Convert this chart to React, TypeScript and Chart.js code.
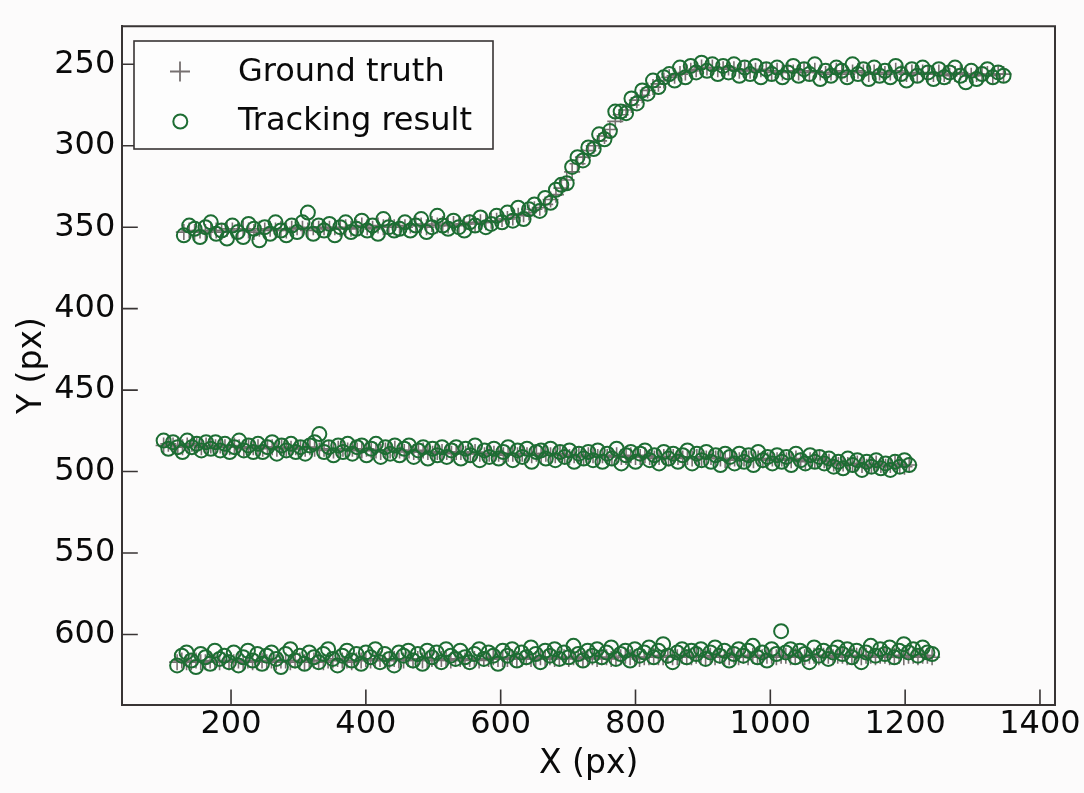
import React, { useEffect, useRef } from "react";
import { Chart, registerables } from "chart.js";

Chart.register(...registerables);

// ---- axis ticks ----
const xTicks = [200, 400, 600, 800, 1000, 1200, 1400];
const yTicks = [250, 300, 350, 400, 450, 500, 550, 600];

// ---- track 1 (upper, lane change) ----
const track1X = [
  130, 138, 146, 154, 162, 170, 178, 186, 194, 202,
  210, 218, 226, 234, 242, 250, 258, 266, 274, 282,
  290, 298, 306, 314, 322, 330, 338, 346, 354, 362,
  370, 378, 386, 394, 402, 410, 418, 426, 434, 442,
  450, 458, 466, 474, 482, 490, 498, 506, 514, 522,
  530, 538, 546, 554, 562, 570, 578, 586, 594, 602,
  610, 618, 626, 634, 642, 650, 658, 666, 674, 682,
  690, 698, 706, 714, 722, 730, 738, 746, 754, 762,
  770, 778, 786, 794, 802, 810, 818, 826, 834, 842,
  850, 858, 866, 874, 882, 890, 898, 906, 914, 922,
  930, 938, 946, 954, 962, 970, 978, 986, 994, 1002,
  1010, 1018, 1026, 1034, 1042, 1050, 1058, 1066, 1074, 1082,
  1090, 1098, 1106, 1114, 1122, 1130, 1138, 1146, 1154, 1162,
  1170, 1178, 1186, 1194, 1202, 1210, 1218, 1226, 1234, 1242,
  1250, 1258, 1266, 1274, 1282, 1290, 1298, 1306, 1314, 1322,
  1330, 1338, 1346,
];
const track1Truth = [
  353, 352, 353, 352, 353, 352, 352, 353, 351, 352,
  352, 351, 352, 353, 351, 352, 351, 352, 351, 352,
  351, 350, 351, 352, 350, 351, 350, 351, 350, 351,
  350, 351, 350, 349, 350, 351, 349, 350, 349, 350,
  349, 350, 349, 348, 349, 350, 348, 349, 348, 349,
  348, 349, 348, 347, 348, 347, 347, 346, 346, 345,
  345, 344, 343, 342, 341, 339, 338, 336, 333, 330,
  326, 321, 316, 311, 307, 303, 300, 297, 294, 290,
  285, 281, 278, 275, 272, 269, 266, 264, 262, 260,
  258, 257, 256, 255, 254, 253, 252, 252, 252, 253,
  253, 252, 253, 254, 253, 254, 254, 253, 254, 255,
  254, 255, 254, 255, 255, 254, 255, 254, 255, 256,
  255, 254, 255, 256, 255, 254, 255, 256, 255, 255,
  256, 255, 254, 255, 256, 255, 256, 255, 256, 256,
  255, 256, 257, 256, 255, 256, 257, 256, 257, 256,
  257, 256, 256,
];
const track1Tracked = [
  355, 349, 351, 356, 350, 347, 354, 352, 357, 349,
  353, 356, 348, 351, 358, 350, 354, 347, 352, 355,
  349, 353, 347, 341, 354, 349, 352, 348, 355, 350,
  347, 353, 351, 346, 352, 349, 354, 345, 350, 352,
  351, 347, 352, 349, 345, 353, 350, 343, 349, 351,
  346, 350, 352, 347, 349, 344, 350, 348, 343, 347,
  341, 346, 338, 345, 339, 336, 340, 332, 335, 327,
  324, 323, 313, 307, 309, 301, 302, 293, 296, 291,
  279, 279, 280, 271, 274, 266, 268, 260, 264, 258,
  256, 260, 252, 258, 251, 255, 249, 254, 250, 256,
  251, 255, 250, 257, 252, 256, 251, 258, 253, 256,
  252, 258, 255, 251, 257, 253, 256, 250, 259, 254,
  257, 252, 254, 258, 250, 256, 253, 259, 252, 257,
  254, 258, 251, 256, 260, 253, 257, 252, 255, 259,
  253, 258, 255, 252, 257, 261, 254, 259, 256, 253,
  258, 255, 257,
];

// ---- track 2 (middle) ----
const track2X = [
  100, 107, 114, 121, 128, 135, 142, 149, 156, 163,
  170, 177, 184, 191, 198, 205, 212, 219, 226, 233,
  240, 247, 254, 261, 268, 275, 282, 289, 296, 303,
  310, 317, 324, 331, 338, 345, 352, 359, 366, 373,
  380, 387, 394, 401, 408, 415, 422, 429, 436, 443,
  450, 457, 464, 471, 478, 485, 492, 499, 506, 513,
  520, 527, 534, 541, 548, 555, 562, 569, 576, 583,
  590, 597, 604, 611, 618, 625, 632, 639, 646, 653,
  660, 667, 674, 681, 688, 695, 702, 709, 716, 723,
  730, 737, 744, 751, 758, 765, 772, 779, 786, 793,
  800, 807, 814, 821, 828, 835, 842, 849, 856, 863,
  870, 877, 884, 891, 898, 905, 912, 919, 926, 933,
  940, 947, 954, 961, 968, 975, 982, 989, 996, 1003,
  1010, 1017, 1024, 1031, 1038, 1045, 1052, 1059, 1066, 1073,
  1080, 1087, 1094, 1101, 1108, 1115, 1122, 1129, 1136, 1143,
  1150, 1157, 1164, 1171, 1178, 1185, 1192, 1199, 1206,
];
const track2Truth = [
  484, 483, 484, 484, 485, 484, 483, 484, 485, 484,
  484, 485, 484, 485, 485, 484, 485, 486, 485, 485,
  485, 486, 485, 485, 486, 485, 486, 486, 485, 486,
  486, 485, 486, 487, 486, 486, 487, 486, 486, 487,
  486, 487, 487, 486, 487, 487, 488, 487, 487, 486,
  487, 488, 487, 488, 488, 487, 488, 489, 488, 488,
  488, 489, 488, 488, 489, 489, 488, 489, 490, 489,
  489, 489, 490, 489, 489, 490, 489, 490, 490, 489,
  490, 489, 490, 490, 489, 490, 491, 490, 490, 491,
  490, 490, 491, 490, 491, 491, 490, 491, 491, 490,
  491, 491, 490, 491, 492, 491, 491, 492, 491, 491,
  492, 491, 492, 491, 492, 492, 491, 492, 492, 493,
  492, 492, 493, 492, 492, 493, 492, 493, 493, 492,
  493, 492, 493, 493, 492, 493, 494, 493, 493, 492,
  493, 494, 495, 496, 495, 496, 496, 495, 496, 497,
  496, 495, 496, 497, 496, 495, 496, 497, 496,
];
const track2Tracked = [
  481, 486, 482, 485, 488, 481, 485, 483, 487, 482,
  486, 482, 487, 483, 488, 485, 481, 487, 484, 488,
  483, 488, 485, 482, 489, 484, 487, 483, 488, 485,
  489, 484, 482, 477, 488, 485, 490, 484, 488, 483,
  489, 485, 484, 490, 486, 483, 491, 485, 489, 484,
  490, 486, 484, 491, 487, 485, 492, 486, 490, 485,
  491, 487, 485, 492, 486, 490, 484, 493, 487, 491,
  486, 492, 488, 485, 493, 487, 491, 486, 494, 488,
  487, 492, 486, 493, 488, 491, 487, 494, 489, 492,
  488, 493, 487, 494, 489, 492, 486, 495, 490, 488,
  494, 489, 487, 493, 490, 495, 488, 492, 489, 494,
  490, 487, 495, 489, 493, 488, 494, 490, 496, 489,
  491, 495, 489, 494, 490, 496, 488, 493, 491, 495,
  490, 494, 491, 496, 489, 493, 495, 490, 494, 491,
  495, 492, 497, 494, 498, 492, 496, 493, 499, 494,
  497, 493, 498, 495, 499, 494, 497, 493, 496,
];

// ---- track 3 (lower) ----
const track3X = [
  120, 127, 134, 141, 148, 155, 162, 169, 176, 183,
  190, 197, 204, 211, 218, 225, 232, 239, 246, 253,
  260, 267, 274, 281, 288, 295, 302, 309, 316, 323,
  330, 337, 344, 351, 358, 365, 372, 379, 386, 393,
  400, 407, 414, 421, 428, 435, 442, 449, 456, 463,
  470, 477, 484, 491, 498, 505, 512, 519, 526, 533,
  540, 547, 554, 561, 568, 575, 582, 589, 596, 603,
  610, 617, 624, 631, 638, 645, 652, 659, 666, 673,
  680, 687, 694, 701, 708, 715, 722, 729, 736, 743,
  750, 757, 764, 771, 778, 785, 792, 799, 806, 813,
  820, 827, 834, 841, 848, 855, 862, 869, 876, 883,
  890, 897, 904, 911, 918, 925, 932, 939, 946, 953,
  960, 967, 974, 981, 988, 995, 1002, 1009, 1016, 1023,
  1030, 1037, 1044, 1051, 1058, 1065, 1072, 1079, 1086, 1093,
  1100, 1107, 1114, 1121, 1128, 1135, 1142, 1149, 1156, 1163,
  1170, 1177, 1184, 1191, 1198, 1205, 1212, 1219, 1226, 1233,
  1240,
];
const track3Truth = [
  617, 616, 617, 617, 616, 617, 617, 616, 617, 617,
  616, 617, 617, 616, 617, 616, 617, 617, 616, 617,
  616, 617, 616, 616, 617, 616, 616, 617, 616, 616,
  616, 617, 616, 616, 615, 616, 616, 617, 616, 616,
  615, 616, 616, 615, 616, 616, 615, 616, 616, 615,
  616, 615, 616, 616, 615, 616, 615, 615, 616, 615,
  615, 616, 615, 615, 616, 615, 615, 614, 615, 615,
  615, 614, 615, 615, 614, 615, 615, 614, 615, 614,
  615, 614, 614, 615, 614, 614, 615, 614, 614, 615,
  614, 614, 615, 614, 614, 613, 614, 614, 615, 614,
  614, 613, 614, 614, 613, 614, 614, 613, 614, 614,
  613, 614, 614, 613, 614, 613, 614, 614, 613, 614,
  613, 614, 613, 613, 614, 613, 613, 614, 613, 613,
  614, 613, 613, 614, 613, 613, 614, 613, 613, 614,
  613, 613, 614, 613, 613, 614, 613, 613, 614, 613,
  613, 614, 613, 613, 614, 613, 613, 614, 613, 613,
  614,
];
const track3Tracked = [
  619, 613, 611, 616, 620, 612, 614, 618, 610, 615,
  613, 617, 611, 619, 614, 610, 616, 612, 618, 613,
  611, 615, 620, 612, 609, 616, 613, 618, 611, 614,
  617, 612, 609, 615, 619, 613, 610, 616, 612, 618,
  611, 614, 609, 617, 612, 615, 619, 611, 613, 610,
  616, 612, 618, 610, 614, 611, 617, 609, 613, 615,
  610, 614, 617, 612, 609, 615, 611, 613, 618, 610,
  613, 609, 616, 611, 614, 608, 612, 617, 610, 613,
  609, 615, 611, 614, 607, 612, 616, 610, 613, 609,
  614, 611, 608, 615, 612, 610, 616, 609, 613, 611,
  608, 614, 610, 606, 613, 617, 611, 609, 614, 610,
  612, 609, 615, 611, 608, 613, 610, 616, 612, 609,
  613, 610, 607, 614, 611, 616, 609, 612, 598, 611,
  609, 614, 610, 612, 617, 608, 613, 610, 615, 611,
  608, 612, 609, 614, 610, 617, 611, 607, 613, 609,
  612, 608, 614, 610, 606, 611, 609, 613, 608, 611,
  612,
];

const seriesNames = ["Ground truth", "Tracking result"];

const BG = "#fcfbfb";
const AXIS = "#383434";
const TEXT = "#0a0a0a";
const GT_COLOR = "#767070";
const TR_COLOR = "#1d6d33";
const FONT = "'DejaVu Sans', 'Liberation Sans', sans-serif";

function pts(xs: number[], ys: number[]) {
  const n = Math.min(xs.length, ys.length);
  const out: { x: number; y: number }[] = [];
  for (let i = 0; i < n; i++) out.push({ x: xs[i], y: ys[i] });
  return out;
}

const framePlugin = {
  id: "frameAndLegend",
  beforeDraw(chart: any) {
    const ctx = chart.ctx;
    ctx.save();
    ctx.fillStyle = BG;
    ctx.fillRect(0, 0, chart.width, chart.height);
    ctx.restore();
  },
  afterDraw(chart: any) {
    const ctx = chart.ctx;
    const a = chart.chartArea;
    const xs = chart.scales.x;
    const ys = chart.scales.y;
    ctx.save();
    ctx.strokeStyle = AXIS;
    ctx.lineWidth = 2;
    // top & right spines
    ctx.beginPath();
    ctx.moveTo(a.left, a.top);
    ctx.lineTo(a.right, a.top);
    ctx.lineTo(a.right, a.bottom);
    ctx.stroke();
    // inward tick marks
    ctx.lineWidth = 1.6;
    ctx.beginPath();
    for (const t of xs.ticks) {
      const px = xs.getPixelForValue(t.value);
      ctx.moveTo(px, a.bottom);
      ctx.lineTo(px, a.bottom - 15.5);
    }
    for (const t of ys.ticks) {
      const py = ys.getPixelForValue(t.value);
      ctx.moveTo(a.left, py);
      ctx.lineTo(a.left + 15.5, py);
    }
    ctx.stroke();

    // legend box
    const bx = 134, by = 41, bw = 359, bh = 108;
    ctx.fillStyle = "#fdfdfd";
    ctx.fillRect(bx, by, bw, bh);
    ctx.strokeStyle = AXIS;
    ctx.lineWidth = 1.6;
    ctx.strokeRect(bx, by, bw, bh);

    // + marker
    ctx.strokeStyle = GT_COLOR;
    ctx.lineWidth = 1.8;
    ctx.beginPath();
    ctx.moveTo(170, 71.5);
    ctx.lineTo(190, 71.5);
    ctx.moveTo(180, 61.5);
    ctx.lineTo(180, 81.5);
    ctx.stroke();
    // o marker
    ctx.strokeStyle = TR_COLOR;
    ctx.lineWidth = 2;
    ctx.beginPath();
    ctx.arc(180.3, 121.5, 7, 0, Math.PI * 2);
    ctx.stroke();

    ctx.fillStyle = TEXT;
    ctx.font = `32px ${FONT}`;
    ctx.textAlign = "left";
    ctx.textBaseline = "alphabetic";
    ctx.fillText(seriesNames[0], 238, 81);
    ctx.fillText(seriesNames[1], 238, 129.5);
    ctx.restore();
  },
};

export default function App() {
  const ref = useRef<HTMLCanvasElement | null>(null);

  useEffect(() => {
    const canvas = ref.current;
    if (!canvas) return;
    const gt = {
      showLine: false,
      pointStyle: "cross",
      pointRadius: 8,
      pointBorderColor: GT_COLOR,
      pointBackgroundColor: "rgba(0,0,0,0)",
      pointBorderWidth: 1.6,
      borderColor: GT_COLOR,
      order: 2,
    };
    const tr = {
      showLine: false,
      pointStyle: "circle",
      pointRadius: 7,
      pointBorderColor: TR_COLOR,
      pointBackgroundColor: "rgba(0,0,0,0)",
      pointBorderWidth: 2,
      borderColor: TR_COLOR,
      order: 1,
    };
    const chart = new Chart(canvas, {
      type: "scatter",
      data: {
        datasets: [
          { label: seriesNames[0], data: pts(track1X, track1Truth), ...gt },
          { label: seriesNames[0], data: pts(track2X, track2Truth), ...gt },
          { label: seriesNames[0], data: pts(track3X, track3Truth), ...gt },
          { label: seriesNames[1], data: pts(track1X, track1Tracked), ...tr },
          { label: seriesNames[1], data: pts(track2X, track2Tracked), ...tr },
          { label: seriesNames[1], data: pts(track3X, track3Tracked), ...tr },
        ] as any,
      },
      options: {
        animation: false,
        responsive: false,
        events: [],
        layout: { padding: { top: 24, right: 29, left: 0, bottom: 0 } },
        plugins: {
          legend: { display: false },
          tooltip: { enabled: false },
        },
        scales: {
          x: {
            type: "linear",
            position: "bottom",
            min: 38.7,
            max: 1422.3,
            afterFit: (s: any) => {
              s.height = 88;
            },
            afterBuildTicks: (s: any) => {
              s.ticks = xTicks.map((v) => ({ value: v }));
            },
            grid: { display: false, drawTicks: false },
            border: { display: true, color: AXIS, width: 2 },
            ticks: {
              padding: 0.5,
              color: TEXT,
              maxRotation: 0,
              autoSkip: false,
              font: { family: FONT, size: 32 },
              callback: (v: any) => String(v),
            },
            title: {
              display: true,
              text: "X (px)",
              color: TEXT,
              font: { family: FONT, size: 33 },
              padding: { top: 0, bottom: 8.5 },
            },
          },
          y: {
            type: "linear",
            position: "left",
            reverse: true,
            min: 226.6,
            max: 643.3,
            afterFit: (s: any) => {
              s.width = 122.3;
            },
            afterBuildTicks: (s: any) => {
              s.ticks = yTicks.map((v) => ({ value: v }));
            },
            grid: { display: false, drawTicks: false },
            border: { display: true, color: AXIS, width: 2 },
            ticks: {
              padding: 7,
              color: TEXT,
              autoSkip: false,
              font: { family: FONT, size: 32 },
              callback: (v: any) => String(v),
            },
            title: {
              display: true,
              text: "Y (px)",
              color: TEXT,
              font: { family: FONT, size: 33 },
              padding: { top: 12.4, bottom: 0 },
            },
          },
        },
      } as any,
      plugins: [framePlugin],
    });
    return () => chart.destroy();
  }, []);

  return (
    <div style={{ position: "fixed", left: 0, top: 0, width: 1084, height: 793, background: BG }}>
      <canvas ref={ref} width={1084} height={793} style={{ display: "block" }} />
    </div>
  );
}
